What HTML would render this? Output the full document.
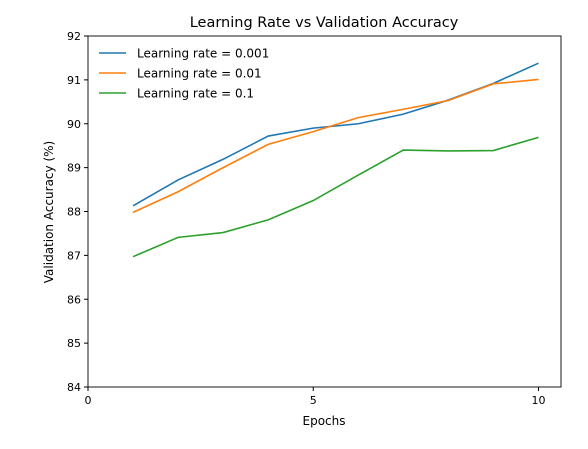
<!DOCTYPE html>
<html><head><meta charset="utf-8"><style>
body{margin:0;background:#fff;}
svg text{font-family:"DejaVu Sans","Liberation Sans",sans-serif;fill:#000;}
</style></head><body>
<svg id="chart" width="588" height="444" viewBox="0 0 588 444">
<rect width="588" height="444" fill="#fff"/>
<text x="324" y="27" font-size="14.5" text-anchor="middle">Learning Rate vs Validation Accuracy</text>
<g id="axes"></g>
<g id="lines"></g>
<rect x="88" y="36" width="473" height="351" fill="none" stroke="#000" stroke-width="0.9"/>
<text x="324" y="425" font-size="12" text-anchor="middle">Epochs</text>
<text transform="translate(53,212) rotate(-90)" font-size="12" text-anchor="middle">Validation Accuracy (%)</text>
<g id="legend"></g>
</svg>
<script>
const epochs=[1,2,3,4,5,6,7,8,9,10];
const lr0001=[88.13,88.72,89.19,89.72,89.90,90.0,90.22,90.54,90.92,91.38];
const lr001=[87.98,88.45,89.0,89.53,89.82,90.14,90.33,90.53,90.91,91.01];
const lr01=[86.97,87.41,87.52,87.81,88.25,88.83,89.40,89.38,89.39,89.69];
const seriesLabels=["Learning rate = 0.001","Learning rate = 0.01","Learning rate = 0.1"];
const xTicks=[0,5,10];
const yTicks=[84,85,86,87,88,89,90,91,92];
const NS="http://www.w3.org/2000/svg";
const L=88,R=561,T=36,B=387;
function xs(v){return L+(v-0)/(10.5)*(R-L);}
function ys(v){return B-(v-84)/8*(B-T);}
function mk(t,a,p){const e=document.createElementNS(NS,t);for(const k in a)e.setAttribute(k,a[k]);p.appendChild(e);return e;}
const ax=document.getElementById('axes');
xTicks.forEach(t=>{
 const l=mk('line',{x1:xs(t),x2:xs(t),y1:B,y2:B+4,stroke:'#000'},ax);
 
 
 const tx=mk('text',{x:xs(t),y:B+17,'font-size':11,'text-anchor':'middle'},ax);tx.textContent=t;
 
 
});
yTicks.forEach(t=>{
 const l=mk('line',{x1:L-4,x2:L,y1:ys(t),y2:ys(t),stroke:'#000'},ax);
 
 
 const tx=mk('text',{x:L-7,y:ys(t)+4,'font-size':11,'text-anchor':'end'},ax);tx.textContent=t;
 
 
});
const colors=['#1f77b4','#ff7f0e','#2ca02c'];
const data=[lr0001,lr001,lr01];
const lg=document.getElementById('lines');
data.forEach((s,i)=>{
 const p=mk('polyline',{points:s.map((v,j)=>xs(epochs[j])+','+ys(v)).join(' '),fill:'none',stroke:colors[i],'stroke-width':1.6},lg);
 
 
});
const leg=document.getElementById('legend');
seriesLabels.forEach((s,i)=>{
 const y=53+i*20;
 const l=mk('line',{x1:99,x2:126,y1:y,y2:y,stroke:colors[i],'stroke-width':1.6},leg);
 
 
 const tx=mk('text',{x:137,y:y+4.5,'font-size':12},leg);tx.textContent=s;
 
 
});
</script>
</body></html>
